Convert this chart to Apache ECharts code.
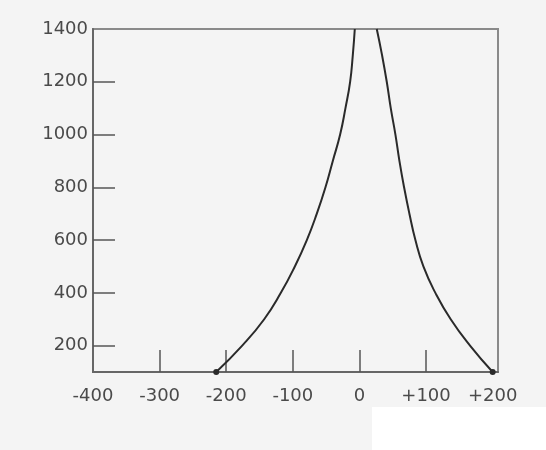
<!DOCTYPE html>
<html>
<head>
<meta charset="utf-8">
<script src="https://cdn.jsdelivr.net/npm/echarts@6/dist/echarts.min.js"></script>
<style>
html,body{margin:0;padding:0;background:#f4f4f4;}
#chart{width:546px;height:450px;}
</style>
</head>
<body>
<div id="chart"></div>
<script>
// Data
var leftX = [-215, -176, -143, -118, -97, -79, -64, -51, -40, -29, -21, -14, -10, -7];
var leftY = [100, 200, 300, 400, 500, 600, 700, 800, 900, 1000, 1100, 1200, 1300, 1400];
var rightX = [26, 34, 41, 47, 54, 60, 67, 75, 84, 96, 114, 137, 166, 200];
var rightY = [1400, 1300, 1200, 1100, 1000, 900, 800, 700, 600, 500, 400, 300, 200, 100];
var xTickLabels = [-400, -300, -200, -100, 0, 100, 200];
var xTickMarks = [-300, -200, -100, 0, 100];
var yTickLabels = [200, 400, 600, 800, 1000, 1200, 1400];
var yTickMarks = [200, 400, 600, 800, 1000, 1200];

function pairs(xs, ys, dotIndex) {
  return xs.map(function (x, i) {
    var item = { value: [x, ys[i]] };
    if (i === dotIndex) { item.symbol = 'circle'; item.symbolSize = 6; }
    return item;
  });
}

var chart = echarts.init(document.getElementById('chart'), null, { renderer: 'canvas' });
var font = '"DejaVu Sans", Verdana, sans-serif';
chart.setOption({
  backgroundColor: '#f4f4f4',
  animation: false,
  graphic: [{
    type: 'rect', right: 0, bottom: 0,
    shape: { width: 174, height: 43 },
    style: { fill: '#ffffff' }, silent: true, z: -1
  }],
  grid: {
    left: 93, right: 48, top: 29, bottom: 78,
    show: true, borderColor: '#8a8a8a', borderWidth: 2, backgroundColor: 'transparent'
  },
  xAxis: {
    type: 'value', min: -400, max: 208,
    axisLine: { show: true, onZero: false, lineStyle: { color: '#666', width: 2 } },
    axisTick: { show: true, inside: true, length: 22, customValues: xTickMarks, lineStyle: { color: '#555', width: 1.5 } },
    axisLabel: {
      customValues: xTickLabels, margin: 15,
      color: '#4a4a4a', fontSize: 18, fontFamily: font,
      formatter: function (v) { return v > 0 ? '+' + v : String(v); }
    },
    splitLine: { show: false }
  },
  yAxis: {
    type: 'value', min: 100, max: 1400,
    axisLine: { show: true, onZero: false, lineStyle: { color: '#666', width: 2 } },
    axisTick: { show: true, inside: true, length: 22, customValues: yTickMarks, lineStyle: { color: '#555', width: 1.5 } },
    axisLabel: {
      customValues: yTickLabels, margin: 5,
      color: '#4a4a4a', fontSize: 18, fontFamily: font,
      formatter: function (v) { return String(v); }
    },
    splitLine: { show: false }
  },
  series: [
    {
      type: 'line', smooth: 0.5, symbol: 'none', clip: true,
      lineStyle: { color: '#2a2a2a', width: 2 },
      itemStyle: { color: '#2a2a2a' },
      data: pairs(leftX, leftY, 0)
    },
    {
      type: 'line', smooth: 0.5, symbol: 'none', clip: true,
      lineStyle: { color: '#2a2a2a', width: 2 },
      itemStyle: { color: '#2a2a2a' },
      data: pairs(rightX, rightY, rightX.length - 1)
    }
  ]
});
</script>
</body>
</html>
